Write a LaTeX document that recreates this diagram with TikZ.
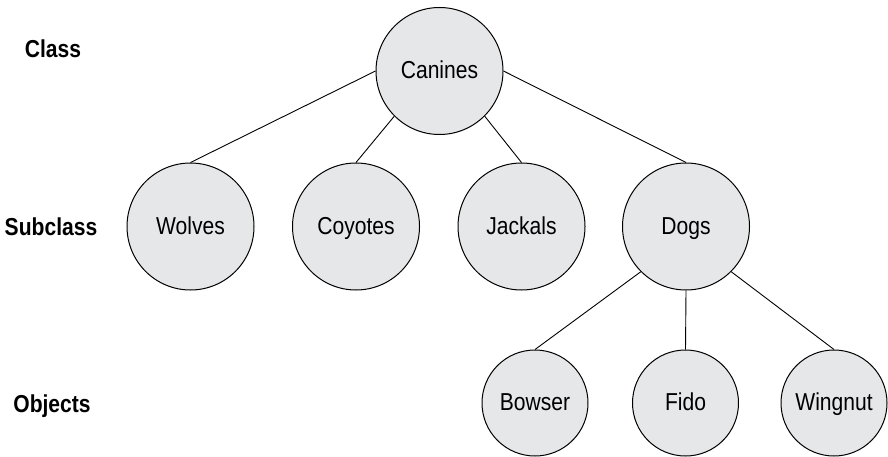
\documentclass[tikz,border=0pt]{standalone}
\usepackage{fontspec}
\setmainfont{Liberation Sans}[FakeStretch=0.86]
\definecolor{canfill}{RGB}{230,231,233}

\begin{document}
\begin{tikzpicture}[x=1pt,y=-1pt,
  bigcircle/.style={draw, circle, fill=canfill, line width=1pt, minimum size=127pt, inner sep=0pt, text height=15pt, text depth=0pt, font=\fontsize{24.5}{28}\selectfont},
  smallcircle/.style={bigcircle, minimum size=106pt},
  level/.style={font=\fontsize{24.5}{28}\selectfont\bfseries},
  link/.style={line width=0.9pt}]
\useasboundingbox (0,0) rectangle (888,457);

% Levels
\node[level] (class) at (53,49) {Class};
\node[level] (subclass) at (51,227) {Subclass};
\node[level] (objects) at (52,406) {Objects};

% Root
\node[bigcircle] (canines) at (439.5,71) {Canines};

% Subclasses
\node[bigcircle] (wolves) at (190.5,226.5) {Wolves};
\node[bigcircle] (coyotes) at (356,226.5) {Coyotes};
\node[bigcircle] (jackals) at (521.5,226.5) {Jackals};
\node[bigcircle] (dogs) at (686,226.5) {Dogs};

\draw[link] (canines.west) -- (wolves.north);
\draw[link] (canines.south west) -- (coyotes.north);
\draw[link] (canines.south east) -- (jackals.north);
\draw[link] (canines.east) -- (dogs.north);

% Objects
\node[smallcircle] (bowser) at (535,403) {Bowser};
\node[smallcircle] (fido) at (685.5,403) {Fido};
\node[smallcircle] (wingnut) at (834,403) {Wingnut};

\draw[link] (dogs.south west) -- (bowser.north);
\draw[link] (dogs.south) -- (fido.north);
\draw[link] (dogs.south east) -- (wingnut.north);
\end{tikzpicture}
\end{document}
